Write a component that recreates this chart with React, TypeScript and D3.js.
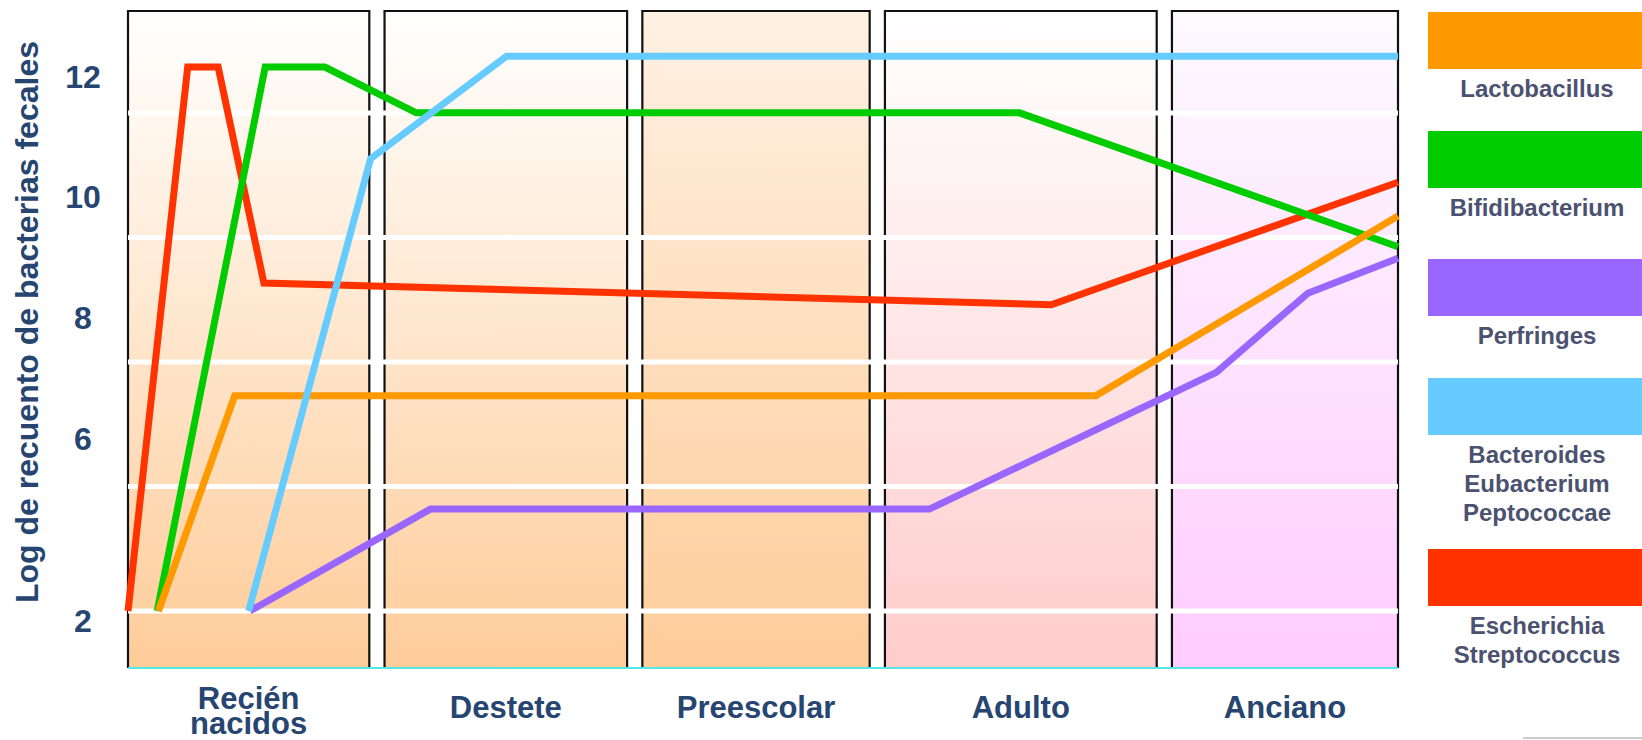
import React from "react";
import * as d3 from "d3";

const WIDTH = 1642;
const HEIGHT = 740;

// Life stages on a 0–100 timeline
const stageNames = [["Recién", "nacidos"], ["Destete"], ["Preescolar"], ["Adulto"], ["Anciano"]];
const stageStart = [0, 20.2, 40.5, 59.6, 82.2];
const stageEnd = [19, 39.3, 58.4, 81, 100];
const stageTopColor = ["#FFFFFF", "#FFFFFF", "#FFF1E3", "#FFFFFF", "#FDFAFF"];
const stageBottomColor = ["#FFCC99", "#FFCC99", "#FFCC99", "#FFCCCC", "#FFCCFF"];

// Log fecal counts
const yTicks = [2, 6, 8, 10, 12];

const escherichiaX = [0, 4.7, 7.1, 10.7, 72.7, 100];
const escherichiaY = [2, 12, 12, 8.42, 8.06, 10.09];
const bifidoX = [2.3, 10.8, 15.5, 22.7, 70.2, 100];
const bifidoY = [2, 12, 12, 11.24, 11.24, 9.02];
const perfringesX = [9.6, 23.8, 63.1, 85.7, 92.9, 100];
const perfringesY = [2, 4.24, 4.24, 6.94, 8.25, 8.83];
const lactoX = [2.4, 8.4, 76.2, 100];
const lactoY = [2, 6.55, 6.55, 9.53];
const bacteroidesX = [9.5, 19.1, 29.8, 100];
const bacteroidesY = [2, 10.48, 12.18, 12.18];

// Drawing order, bottom to top
const lineSeries = [
  { key: "esch", xs: escherichiaX, ys: escherichiaY, color: "#FF3300" },
  { key: "bifi", xs: bifidoX, ys: bifidoY, color: "#00CC00" },
  { key: "perf", xs: perfringesX, ys: perfringesY, color: "#9966FF" },
  { key: "lact", xs: lactoX, ys: lactoY, color: "#FF9900" },
  { key: "bact", xs: bacteroidesX, ys: bacteroidesY, color: "#66CCFF" },
];

const legendNames = [
  ["Lactobacillus"],
  ["Bifidibacterium"],
  ["Perfringes"],
  ["Bacteroides", "Eubacterium", "Peptococcae"],
  ["Escherichia", "Streptococcus"],
];
const legendColors = ["#FF9900", "#00CC00", "#9966FF", "#66CCFF", "#FF3300"];

// Layout
const PLOT_LEFT = 128;
const PLOT_RIGHT = 1398;
const PLOT_TOP = 11;
const PLOT_BOTTOM = 668;
const GRID_STEP = 124.5;
const LEGEND_LEFT = 1428;
const LEGEND_TOPS = [12, 131, 259, 378, 549];
const SWATCH_H = 57;

const FONT = "'Liberation Sans', Arial, sans-serif";
const AXIS_COLOR = "#264570";
const LEGEND_TEXT = "#4A5270";

export default function App() {
  const x = d3.scaleLinear().domain([0, 100]).range([PLOT_LEFT, PLOT_RIGHT]);
  // broken value axis: 2 → 6 is compressed compared with 6 → 12
  const y = d3.scaleLinear().domain([2, 6, 12]).range([611, 429, 67]);

  const grid = d3.range(5).map((k) => y(2) - k * GRID_STEP);

  const line = d3
    .line<[number, number]>()
    .x((d) => x(d[0]))
    .y((d) => y(d[1]));

  return (
    <svg
      width={WIDTH}
      height={HEIGHT}
      style={{ position: "absolute", left: 0, top: 0, background: "#fff" }}
      fontFamily={FONT}
    >
      <defs>
        {stageNames.map((_, i) => (
          <linearGradient key={i} id={`stage-grad-${i}`} x1="0" y1="0" x2="0" y2="1">
            <stop offset="0" stopColor={stageTopColor[i]} />
            <stop offset="1" stopColor={stageBottomColor[i]} />
          </linearGradient>
        ))}
      </defs>

      {/* stage panels */}
      {stageNames.map((_, i) => {
        const x0 = x(stageStart[i]);
        const x1 = x(stageEnd[i]);
        return (
          <g key={i}>
            <rect
              x={x0}
              y={PLOT_TOP}
              width={x1 - x0}
              height={PLOT_BOTTOM - PLOT_TOP}
              fill={`url(#stage-grad-${i})`}
            />
            <path
              d={`M${x0},${PLOT_BOTTOM}V${PLOT_TOP}H${x1}V${PLOT_BOTTOM}`}
              fill="none"
              stroke="#111"
              strokeWidth={2.2}
            />
          </g>
        );
      })}

      {/* white horizontal grid bands */}
      {grid.map((gy, i) => (
        <line key={i} x1={PLOT_LEFT} x2={PLOT_RIGHT} y1={gy} y2={gy} stroke="#fff" strokeWidth={5} />
      ))}

      {/* baseline */}
      <line
        x1={PLOT_LEFT}
        x2={PLOT_RIGHT}
        y1={PLOT_BOTTOM}
        y2={PLOT_BOTTOM}
        stroke="#55E6E6"
        strokeWidth={2}
      />

      {/* series lines */}
      {lineSeries.map((s) => (
        <path
          key={s.key}
          d={line(s.xs.map((v, i) => [v, s.ys[i]] as [number, number])) || ""}
          fill="none"
          stroke={s.color}
          strokeWidth={7}
          strokeLinejoin="miter"
          strokeMiterlimit={4}
        />
      ))}

      {/* value axis labels */}
      {yTicks.map((t) => (
        <text
          key={t}
          x={83}
          y={y(t) + 20.5}
          textAnchor="middle"
          fontSize={32}
          fontWeight="bold"
          fill={AXIS_COLOR}
        >
          {t}
        </text>
      ))}
      <text
        transform={`translate(38, ${(42 + 602) / 2}) rotate(-90)`}
        textAnchor="middle"
        fontSize={32}
        fontWeight="bold"
        fill={AXIS_COLOR}
      >
        Log de recuento de bacterias fecales
      </text>

      {/* stage labels */}
      {stageNames.map((lines, i) => {
        const cx = (x(stageStart[i]) + x(stageEnd[i])) / 2;
        const first = lines.length > 1 ? 709 : 718;
        return (
          <text
            key={i}
            x={cx}
            y={first}
            textAnchor="middle"
            fontSize={31}
            fontWeight="bold"
            fill={AXIS_COLOR}
          >
            {lines.map((l, j) => (
              <tspan key={j} x={cx} y={first + j * 25}>
                {l}
              </tspan>
            ))}
          </text>
        );
      })}

      {/* legend */}
      {legendNames.map((names, i) => {
        const top = LEGEND_TOPS[i];
        const cx = 1537;
        return (
          <g key={i}>
            <rect x={LEGEND_LEFT} y={top} width={WIDTH - LEGEND_LEFT} height={SWATCH_H} fill={legendColors[i]} />
            {names.map((n, j) => (
              <text
                key={j}
                x={cx}
                y={top + SWATCH_H + 28 + j * 29}
                textAnchor="middle"
                fontSize={24}
                fontWeight="bold"
                fill={LEGEND_TEXT}
              >
                {n}
              </text>
            ))}
          </g>
        );
      })}

      <line x1={1523} x2={WIDTH} y1={738} y2={738} stroke="#CCCCCC" strokeWidth={2} />
    </svg>
  );
}
